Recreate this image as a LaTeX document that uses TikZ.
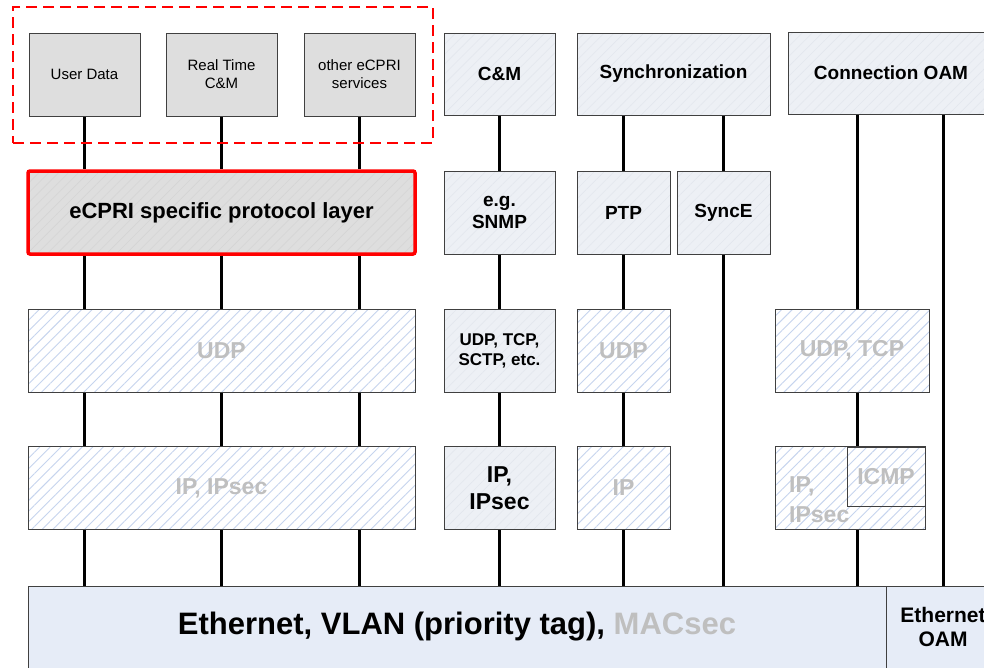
\documentclass[tikz,border=0pt]{standalone}
\usepackage{fontspec}
\setmainfont{Liberation Sans}
\usetikzlibrary{patterns.meta,backgrounds}

\definecolor{svcgray}{HTML}{DEDEDE}
\definecolor{svchatch}{HTML}{D5D5D5}
\definecolor{liteblue}{HTML}{EDF0F5}
\definecolor{litehatch}{HTML}{E3E7EE}
\definecolor{hatchblue}{HTML}{C6D4EE}
\definecolor{ethblue}{HTML}{E6ECF7}
\definecolor{graytext}{HTML}{BFBFBF}
\definecolor{edgegray}{HTML}{404040}

\tikzset{
  box/.style={draw=edgegray, line width=0.9pt, inner sep=0pt, align=center},
  svc/.style={box, fill=svcgray, minimum width=111pt, minimum height=83pt,
    font=\fontsize{15}{18}\selectfont},
  lite/.style={box, preaction={fill=liteblue},
    pattern={Lines[angle=45,distance=7pt,line width=0.6pt]}, pattern color=litehatch,
    font=\bfseries\fontsize{19}{22}\selectfont},
  hatched/.style={box, preaction={fill=white},
    pattern={Lines[angle=45,distance=7.5pt,line width=0.9pt]}, pattern color=hatchblue,
    text=graytext, font=\bfseries\fontsize{23}{27}\selectfont},
  link/.style={line width=3.6pt},
}

\begin{document}
\begin{tikzpicture}[x=1pt,y=-1pt]
 \clip (0,0) rectangle (984,667);

 % eCPRI services
 \node (GRP) [draw=red, line width=2pt, dash pattern=on 11pt off 6pt,
   minimum width=420pt, minimum height=136pt] at (223,75) {};
 \node (UD) [svc] at (84.5,74.5) {User Data};
 \node (RT) [svc] at (221.5,74.5) {Real Time\\C\&M};
 \node (OS) [svc] at (359.5,74.5) {other eCPRI\\services};

 \node (CM) [lite, minimum width=111pt, minimum height=82pt] at (499.5,74) {C\&M};
 \node (SYNC) [lite, minimum width=193pt, minimum height=82pt] at (673.5,74) {Synchronization};
 \node (COAM) [lite, minimum width=206pt, minimum height=82pt] at (891,73) {Connection OAM};

 % second row
 \node (ECP) [box, draw=red, line width=3.5pt, rounded corners=2pt, preaction={fill=svcgray},
   pattern={Lines[angle=45,distance=7pt,line width=0.6pt]}, pattern color=svchatch,
   minimum width=387pt, minimum height=83pt, font=\bfseries\fontsize{22}{26}\selectfont]
   at (221.5,212.5) {eCPRI specific protocol layer};
 \node (SNMP) [lite, minimum width=111pt, minimum height=83pt] at (499.5,212.5) {e.g.\\SNMP};
 \node (PTP) [lite, minimum width=93pt, minimum height=83pt] at (623.5,212.5) {PTP};
 \node (SYNCE) [lite, minimum width=93pt, minimum height=83pt] at (723.5,212.5) {SyncE};

 % transport
 \node (UDPA) [hatched, minimum width=387pt, minimum height=83pt] at (221.5,350.5) {UDP};
 \node (UDPB) [lite, minimum width=111pt, minimum height=83pt,
   font=\bfseries\fontsize{17}{20}\selectfont] at (499.5,350.5) {UDP, TCP,\\SCTP, etc.};
 \node (UDPC) [hatched, minimum width=93pt, minimum height=83pt] at (623.5,350.5) {UDP};
 \node (UDPD) [hatched, minimum width=154pt, minimum height=83pt] at (852,350.5) {UDP, TCP};

 % network
 \node (IPA) [hatched, minimum width=387pt, minimum height=83pt] at (221.5,488) {IP, IPsec};
 \node (IPB) [lite, minimum width=111pt, minimum height=83pt,
   font=\bfseries\fontsize{23}{27}\selectfont] at (499.5,488) {IP,\\IPsec};
 \node (IPC) [hatched, minimum width=93pt, minimum height=83pt] at (623.5,488) {IP};
 \node (IPD) [hatched, minimum width=150pt, minimum height=83pt] at (850,488) {};
 \node (IPDT) [text=graytext, font=\bfseries\fontsize{23}{30}\selectfont, align=left,
   inner sep=0pt, anchor=base west] at (789,522) {IP,\\IPsec};
 \node (ICMP) [hatched, minimum width=78pt, minimum height=59pt] at (886,476.5) {ICMP};

 % link layer
 \node (ETH) [box, fill=ethblue, minimum width=858pt, minimum height=82pt,
   font=\bfseries\fontsize{31}{36}\selectfont] at (457,627)
   {Ethernet, VLAN (priority tag), \textcolor{graytext}{MACsec}};
 \node (EOAM) [box, fill=ethblue, minimum width=114pt, minimum height=82pt,
   font=\bfseries\fontsize{21}{24}\selectfont] at (943,627) {Ethernet\\OAM};

 \coordinate (OAMX) at (857,0);

 \begin{scope}[on background layer]
  \foreach \s in {UD,RT,OS} {
   \draw[link] (\s.south) -- (\s.south |- ECP.north);
   \draw[link] (\s.south |- ECP.south) -- (\s.south |- UDPA.north);
   \draw[link] (\s.south |- UDPA.south) -- (\s.south |- IPA.north);
   \draw[link] (\s.south |- IPA.south) -- (\s.south |- ETH.north);
  }
  \draw[link] (CM.south) -- (SNMP.north);
  \draw[link] (SNMP.south) -- (UDPB.north);
  \draw[link] (UDPB.south) -- (IPB.north);
  \draw[link] (IPB.south) -- (IPB.south |- ETH.north);
  \draw[link] (SYNC.south -| PTP) -- (PTP.north);
  \draw[link] (PTP.south) -- (UDPC.north);
  \draw[link] (UDPC.south) -- (IPC.north);
  \draw[link] (IPC.south) -- (IPC.south |- ETH.north);
  \draw[link] (SYNC.south -| SYNCE) -- (SYNCE.north);
  \draw[link, line width=3pt] (SYNCE.south) -- (SYNCE.south |- ETH.north);
  \draw[link, line width=3pt] (COAM.south -| OAMX) -- (UDPD.north -| OAMX);
  \draw[link, line width=3pt] (UDPD.south -| OAMX) -- (ICMP.north -| OAMX);
  \draw[link, line width=3pt] (IPD.south -| OAMX) -- (ETH.north -| OAMX);
  \draw[link, line width=3pt] (COAM.south -| EOAM) -- (EOAM.north);
 \end{scope}
\end{tikzpicture}
\end{document}
